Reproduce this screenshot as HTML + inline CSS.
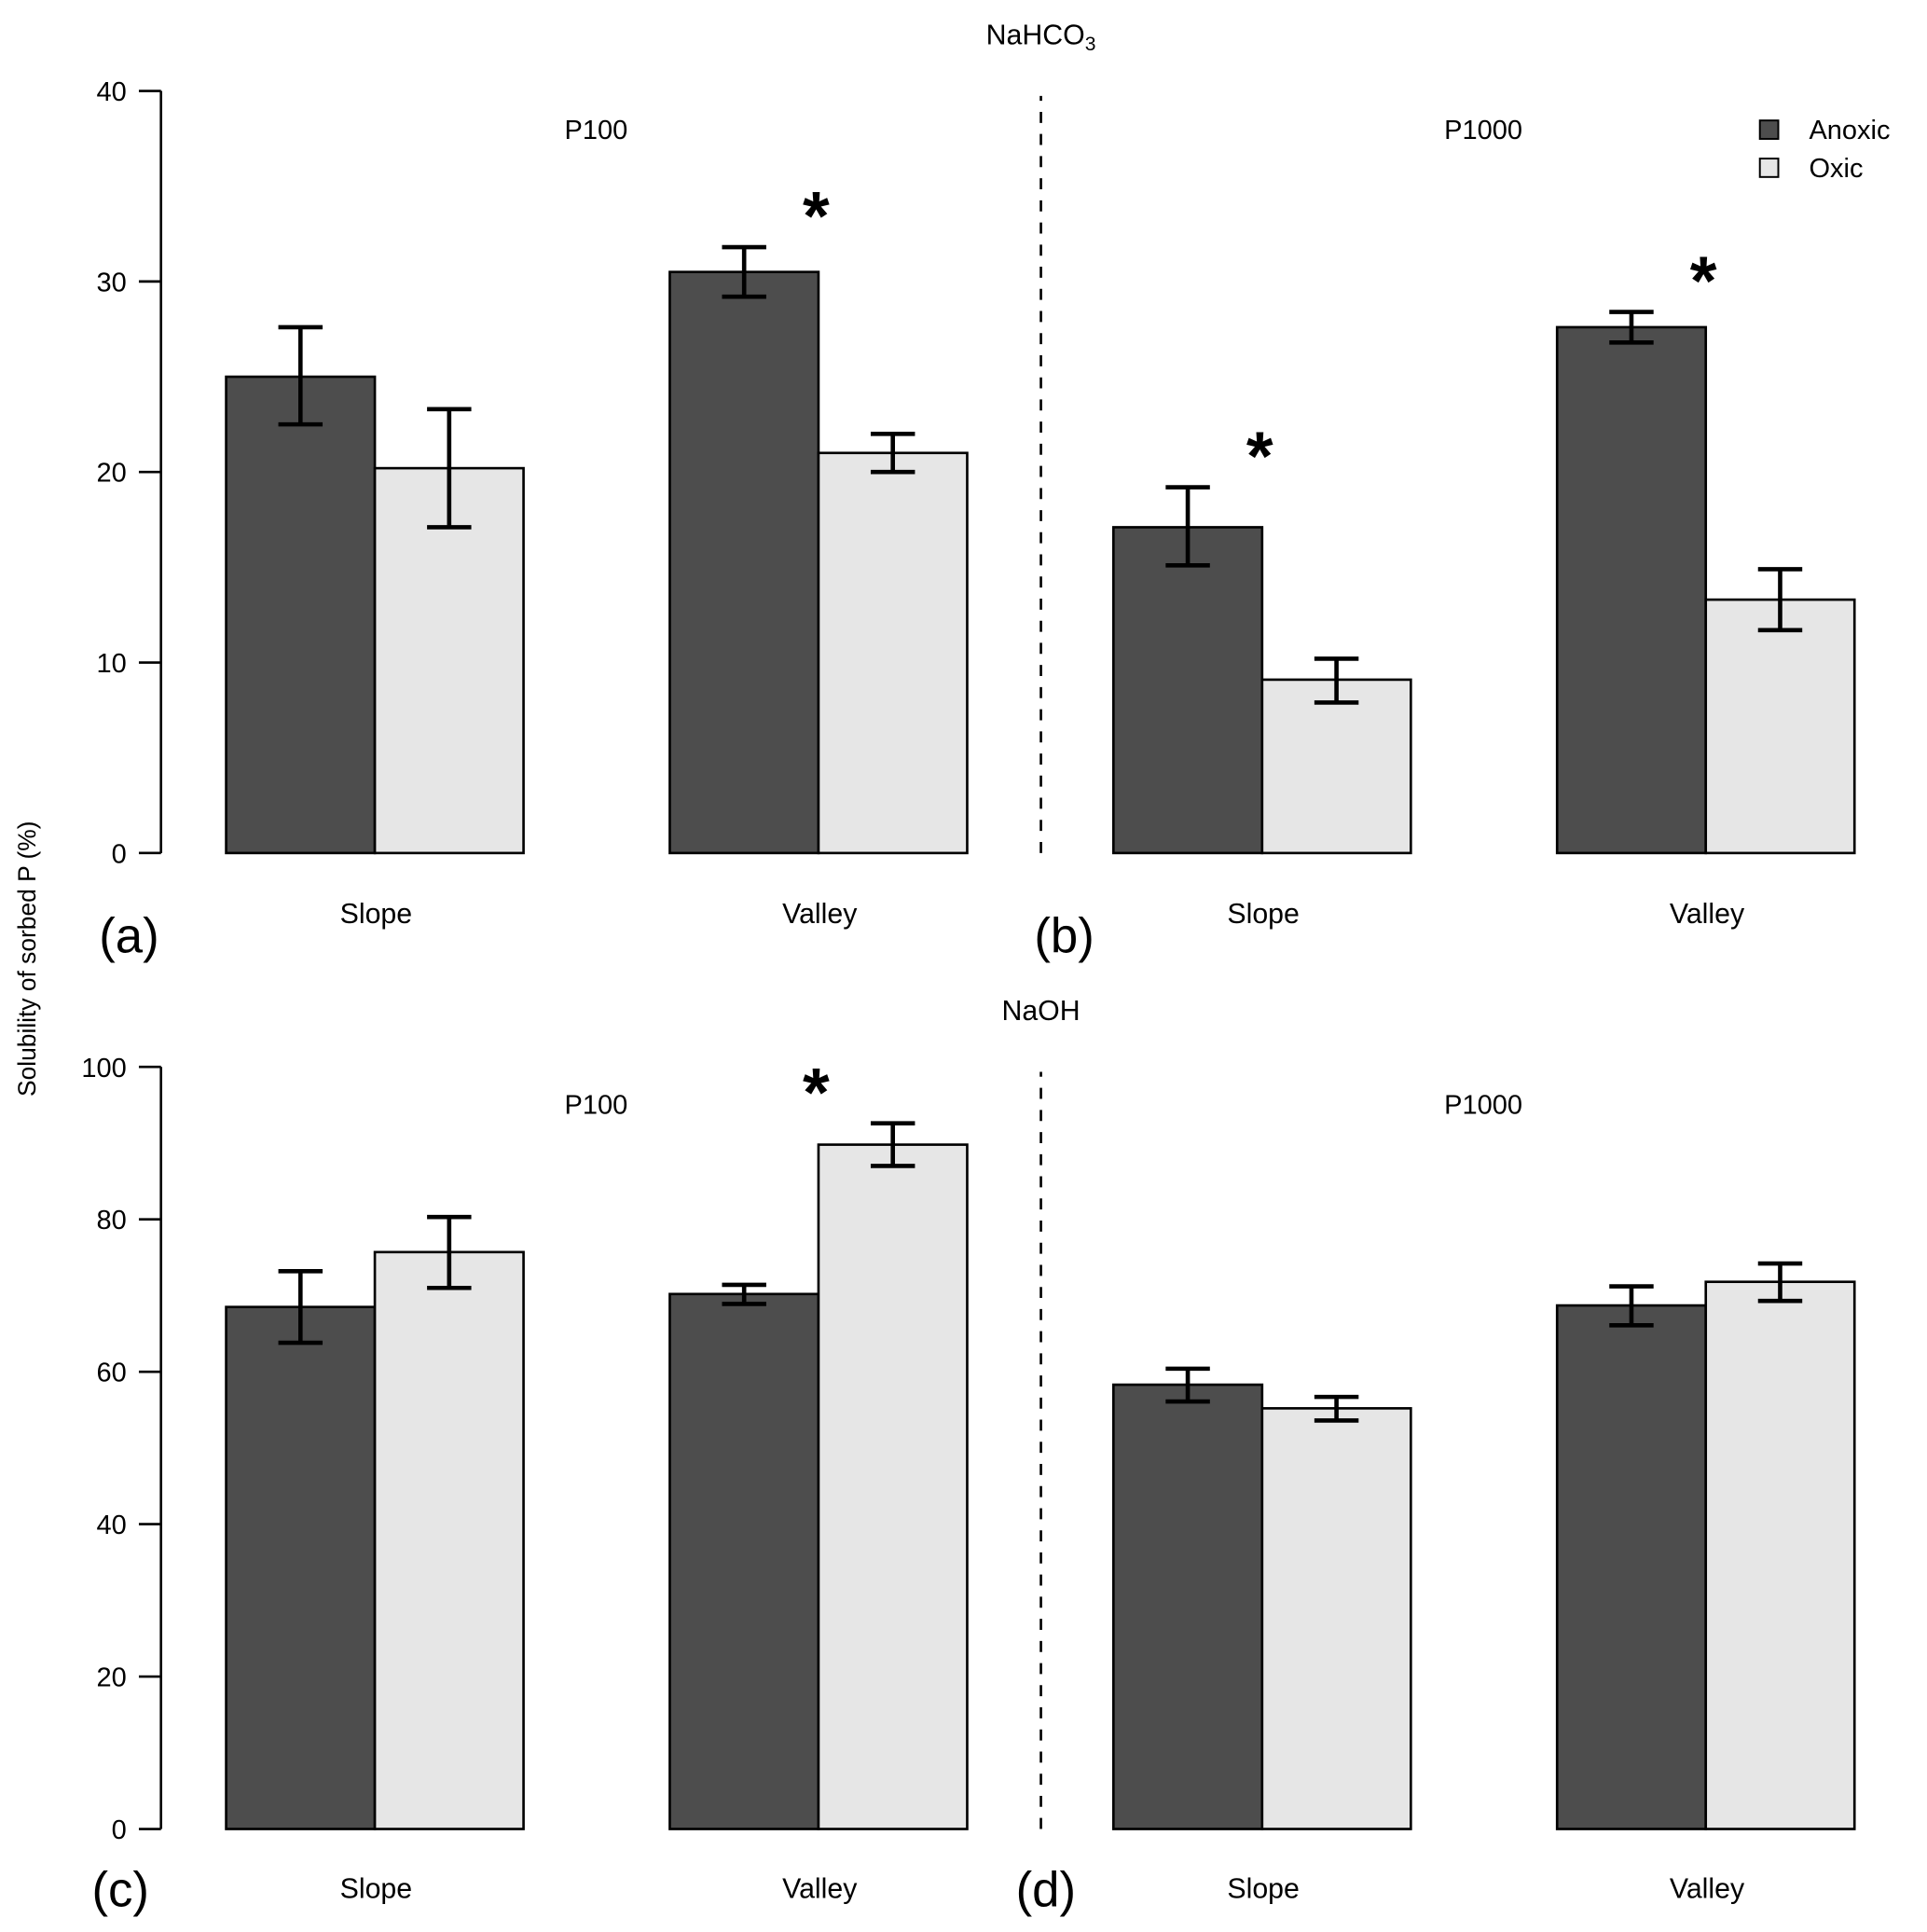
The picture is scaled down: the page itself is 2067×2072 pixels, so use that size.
<!DOCTYPE html>
<html><head><meta charset="utf-8"><style>
html,body{margin:0;padding:0;background:#fff;}
svg{display:block;font-family:"Liberation Sans",Arial,sans-serif;}
</style></head><body>
<svg id="chart" width="2067" height="2072" viewBox="0 0 1568 1571.8" preserveAspectRatio="none" xmlns="http://www.w3.org/2000/svg">
<rect width="1568" height="1571.8" fill="#fff"/>
<g id="root"></g>
</svg>
<script>
// Data
const categories = ["Slope","Valley"];
const treatments = ["P100","P1000"];
const topAnoxic = [25.0, 30.5, 17.1, 27.6];
const topAnoxicLo = [22.5, 29.2, 15.1, 26.8];
const topAnoxicHi = [27.6, 31.8, 19.2, 28.4];
const topOxic = [20.2, 21.0, 9.1, 13.3];
const topOxicLo = [17.1, 20.0, 7.9, 11.7];
const topOxicHi = [23.3, 22.0, 10.2, 14.9];
const botAnoxic = [68.5, 70.2, 58.3, 68.7];
const botAnoxicLo = [63.8, 68.9, 56.1, 66.1];
const botAnoxicHi = [73.2, 71.4, 60.4, 71.2];
const botOxic = [75.7, 89.8, 55.2, 71.8];
const botOxicLo = [71.0, 87.0, 53.6, 69.3];
const botOxicHi = [80.3, 92.6, 56.7, 74.2];
const topTicks = [0,10,20,30,40];
const botTicks = [0,20,40,60,80,100];
const topStars = [[1,"anoxic"],[2,"anoxic"],[3,"anoxic"]];
const botStars = [[1,"oxic"]];

const NS="http://www.w3.org/2000/svg";
const root=document.getElementById('root');
function el(tag,attrs,parent){const e=document.createElementNS(NS,tag);for(const k in attrs)e.setAttribute(k,attrs[k]);(parent||root).appendChild(e);return e;}
function txt(x,y,s,size,anchor,name){const t=el('text',{x:x,y:y,'font-size':size,'text-anchor':anchor||'middle',fill:'#000'});t.textContent=s;


return t;}

const groupLeft=[184,545,906,1267];
const barW=121;
function groupX(i){return groupLeft[i];}

function panel(y0,y100,maxV,ticks,an,anLo,anHi,ox,oxLo,oxHi,stars,labelY,pre){
  const sy=v=>y0-(v/maxV)*(y0-y100);
  const g=el('g',{});
  
  
  const ax=el('line',{x1:131,x2:131,y1:sy(0),y2:sy(maxV),stroke:'#000','stroke-width':2},g);
  
  
  ticks.forEach(t=>{
    const l=el('line',{x1:113,x2:131,y1:sy(t),y2:sy(t),stroke:'#000','stroke-width':2},g);
    
    
    txt(103,sy(t)+8,String(t),22,'end',pre+'-y-tick-label');
  });
  const dl=el('line',{x1:847,x2:847,y1:sy(0),y2:sy(maxV)+4,stroke:'#000','stroke-width':2,'stroke-dasharray':'9,9'},g);
  
  
  for(let i=0;i<4;i++){
    const x=groupX(i);
    [[an,anLo,anHi,'#4d4d4d','anoxic',0],[ox,oxLo,oxHi,'#e6e6e6','oxic',1]].forEach(([v,lo,hi,c,nm,k])=>{
      const bx=x+k*barW;
      const r=el('rect',{x:bx,y:sy(v[i]),width:barW,height:sy(0)-sy(v[i]),fill:c,stroke:'#000','stroke-width':2},g);
      
      
      const cx=bx+barW/2;
      const e=el('path',{d:`M${cx},${sy(lo[i])}V${sy(hi[i])}M${cx-18},${sy(lo[i])}H${cx+18}M${cx-18},${sy(hi[i])}H${cx+18}`,stroke:'#000','stroke-width':3.5,fill:'none'},g);
      
      
    });
    txt(x+barW+1,labelY,categories[i%2],23,'middle',pre+'-category-label');
  }
  stars.forEach(([i,s])=>{
    const k=s==='anoxic'?0:1;
    const hi=k?oxHi:anHi;
    const st=txt(groupX(i)+barW-2,sy(hi[i])-6,'*',56,'middle',pre+'-significance-star');
    st.setAttribute('font-weight','bold');
  });
  return sy;
}

panel(694,74,40,topTicks,topAnoxic,topAnoxicLo,topAnoxicHi,topOxic,topOxicLo,topOxicHi,topStars,751,'top');
panel(1488,868,100,botTicks,botAnoxic,botAnoxicLo,botAnoxicHi,botOxic,botOxicLo,botOxicHi,botStars,1544,'bottom');

const t1=txt(847,36,'NaHCO',23,'middle','top-title');
const sub=document.createElementNS(NS,'tspan');sub.setAttribute('font-size','16');sub.setAttribute('dy','5');sub.textContent='3';t1.appendChild(sub);
txt(847,830,'NaOH',23,'middle','bottom-title');
txt(485,113,treatments[0],22,'middle','top-p100-label');
txt(1207,113,treatments[1],22,'middle','top-p1000-label');
txt(485,906,treatments[0],22,'middle','bottom-p100-label');
txt(1207,906,treatments[1],22,'middle','bottom-p1000-label');
txt(105,775,'(a)',40,'middle','panel-a-label');
txt(866,775,'(b)',40,'middle','panel-b-label');
txt(98,1551,'(c)',40,'middle','panel-c-label');
txt(851,1551,'(d)',40,'middle','panel-d-label');
const yt=txt(0,0,'Solubility of sorbed P (%)',20,'middle','y-axis-title');
yt.setAttribute('transform','translate(29,780) rotate(-90)');
const lg=el('g',{});


const s1=el('rect',{x:1432,y:98,width:15,height:15,fill:'#4d4d4d',stroke:'#000','stroke-width':1.5},lg);


const s2=el('rect',{x:1432,y:129,width:15,height:15,fill:'#e6e6e6',stroke:'#000','stroke-width':1.5},lg);


txt(1472,113,'Anoxic',22,'start','legend-entry-anoxic');
txt(1472,144,'Oxic',22,'start','legend-entry-oxic');
</script>
</body></html>
